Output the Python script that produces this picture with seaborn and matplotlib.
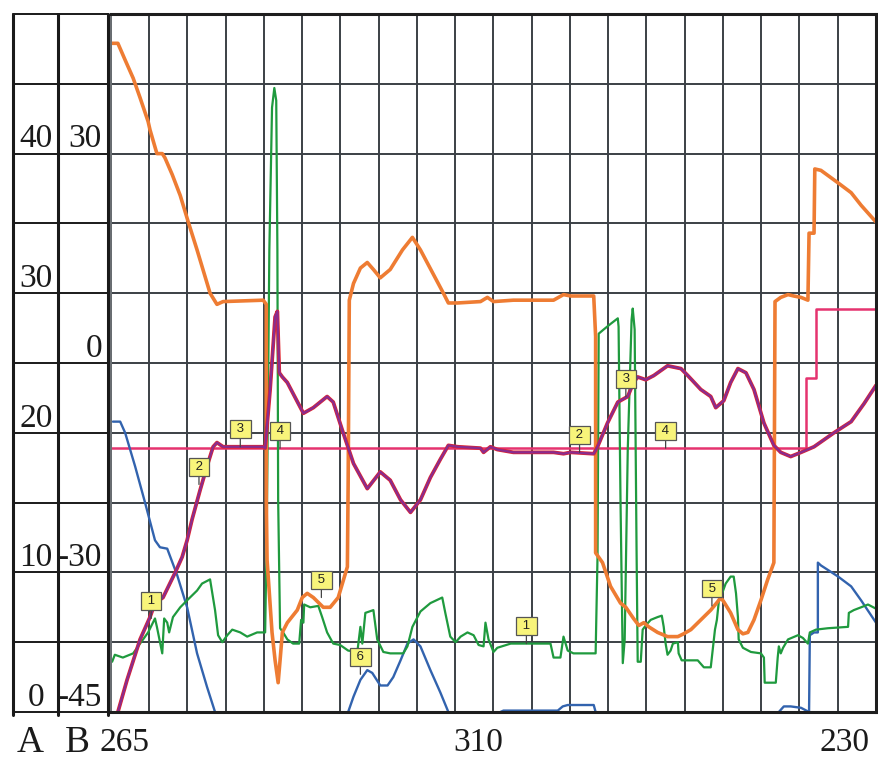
import numpy as np
import pandas as pd
import matplotlib
matplotlib.use('Agg')
import matplotlib.pyplot as plt
from matplotlib.ticker import MultipleLocator
import seaborn as sns

# x in grid columns (0-20), y on scale A (0-50)
ORANGE_X = [0.03, 0.18, 0.37, 0.58, 0.76, 0.97, 1.02, 1.20, 1.34, 1.41,
            1.60, 1.81, 2.02, 2.25, 2.59, 2.77, 2.93, 3.98, 4.06, 4.06,
            4.08, 4.21, 4.29, 4.37, 4.42, 4.48, 4.61, 4.87, 5.00, 5.13,
            5.29, 5.55, 5.73, 5.94, 6.18, 6.20, 6.23, 6.34, 6.52, 6.70,
            6.86, 7.04, 7.30, 7.62, 7.88, 8.09, 8.69, 8.82, 9.06, 9.66,
            9.84, 10.00, 10.52, 11.57, 11.83, 12.02, 12.62, 12.67, 12.67, 12.85,
            13.06, 13.32, 13.46, 13.66, 13.80, 13.93, 14.06, 14.29, 14.55, 14.82,
            14.97, 15.16, 15.42, 15.68, 15.86, 15.94, 16.02, 16.20, 16.39, 16.52,
            16.65, 16.81, 16.99, 17.17, 17.33, 17.36, 17.51, 17.70, 17.85, 18.04,
            18.22, 18.25, 18.38, 18.40, 18.56, 19.01, 19.35, 19.61, 20.0]
ORANGE_Y = [47.9, 47.9, 46.7, 45.4, 44.0, 42.3, 41.7, 40.0, 40.0, 39.7,
            38.5, 37.0, 35.1, 33.1, 30.0, 29.2, 29.4, 29.5, 29.2, 15.2,
            10.9, 5.7, 3.7, 2.1, 3.7, 5.7, 6.4, 7.3, 8.2, 8.5,
            8.2, 7.5, 7.5, 8.2, 10.4, 16.4, 29.5, 30.7, 31.8, 32.2,
            31.7, 31.1, 31.7, 33.1, 34.0, 33.1, 30.0, 29.3, 29.3, 29.4,
            29.7, 29.4, 29.5, 29.5, 29.9, 29.8, 29.8, 26.9, 11.4, 10.7,
            9.0, 7.8, 7.5, 6.7, 6.2, 6.4, 6.1, 5.7, 5.4, 5.4,
            5.6, 5.9, 6.6, 7.3, 7.9, 8.2, 7.9, 7.1, 5.9, 5.6,
            5.7, 6.6, 8.0, 9.5, 10.7, 29.4, 29.7, 29.9, 29.8, 29.7,
            29.5, 34.3, 34.3, 38.9, 38.8, 37.9, 37.2, 36.3, 35.1]

PURPLE_X = [0.18, 0.42, 0.76, 1.02, 1.15, 1.36, 1.68, 1.86, 1.99, 2.12,
            2.33, 2.51, 2.67, 2.77, 2.93, 3.98, 4.03, 4.16, 4.29, 4.35,
            4.40, 4.48, 4.61, 5.03, 5.29, 5.65, 5.81, 6.07, 6.34, 6.70,
            7.04, 7.30, 7.57, 7.83, 8.09, 8.35, 8.61, 8.82, 9.06, 9.66,
            9.74, 9.92, 10.10, 10.52, 11.57, 11.83, 12.02, 12.62, 12.72, 12.98,
            13.25, 13.51, 13.66, 13.77, 13.98, 14.19, 14.55, 14.90, 15.08, 15.42,
            15.68, 15.81, 16.02, 16.20, 16.39, 16.60, 16.81, 17.07, 17.33, 17.51,
            17.77, 18.04, 18.38, 18.90, 19.35, 19.69, 20.0]
PURPLE_Y = [0.0, 2.3, 5.2, 6.8, 7.8, 8.2, 10.0, 11.1, 12.3, 13.8,
            15.9, 17.6, 19.0, 19.3, 19.0, 19.0, 18.9, 23.1, 28.3, 28.7,
            24.3, 24.0, 23.6, 21.4, 21.8, 22.6, 22.2, 20.0, 17.8, 16.0,
            17.2, 16.6, 15.2, 14.3, 15.2, 16.8, 18.1, 19.1, 19.0, 18.9,
            18.6, 19.0, 18.8, 18.6, 18.6, 18.5, 18.6, 18.5, 19.0, 20.7,
            22.2, 22.6, 23.6, 24.0, 23.8, 24.1, 24.8, 24.6, 24.1, 23.1,
            22.6, 21.8, 22.3, 23.6, 24.6, 24.3, 23.1, 20.7, 19.1, 18.6,
            18.3, 18.6, 19.0, 20.0, 20.8, 22.1, 23.4]

PINK_X = [0.0, 18.17, 18.17, 18.43, 18.43, 20.0]
PINK_Y = [18.9, 18.9, 23.9, 23.9, 28.9, 28.9]

GREEN_X = [0.03, 0.10, 0.31, 0.58, 0.76, 0.97, 1.15, 1.20, 1.34, 1.39,
           1.47, 1.52, 1.62, 1.81, 1.99, 2.25, 2.38, 2.59, 2.72, 2.80,
           2.91, 3.04, 3.17, 3.38, 3.56, 3.82, 4.03, 4.06, 4.08, 4.14,
           4.21, 4.27, 4.32, 4.35, 4.37, 4.42, 4.50, 4.61, 4.76, 4.92,
           4.97, 5.03, 5.05, 5.21, 5.42, 5.52, 5.65, 5.81, 5.99, 6.20,
           6.44, 6.52, 6.57, 6.65, 6.86, 6.96, 7.12, 7.30, 7.64, 7.75,
           7.88, 8.09, 8.35, 8.66, 8.74, 8.87, 9.01, 9.14, 9.32, 9.48,
           9.61, 9.74, 9.79, 9.87, 10.00, 10.10, 10.45, 11.49, 11.57, 11.75,
           11.83, 11.94, 12.09, 12.67, 12.72, 12.75, 12.88, 13.06, 13.25, 13.27,
           13.32, 13.38, 13.43, 13.51, 13.61, 13.64, 13.69, 13.74, 13.77, 13.85,
           13.90, 13.98, 14.11, 14.29, 14.40, 14.45, 14.50, 14.55, 14.63, 14.69,
           14.82, 14.84, 14.92, 15.34, 15.50, 15.68, 15.73, 15.79, 15.84, 15.89,
           15.99, 16.07, 16.20, 16.28, 16.34, 16.39, 16.41, 16.52, 16.73, 16.99,
           17.07, 17.09, 17.38, 17.43, 17.46, 17.51, 17.57, 17.70, 17.96, 18.09,
           18.22, 18.27, 18.43, 18.74, 19.27, 19.29, 19.42, 19.61, 19.79, 20.0]
GREEN_Y = [3.6, 4.1, 3.9, 4.2, 4.9, 5.7, 6.7, 6.1, 4.2, 6.7,
           6.4, 5.7, 6.8, 7.5, 8.0, 8.7, 9.2, 9.5, 7.3, 5.5,
           5.0, 5.5, 5.9, 5.7, 5.4, 5.7, 5.7, 10.7, 15.2, 33.1,
           43.3, 44.7, 43.8, 33.1, 15.2, 6.0, 5.7, 5.2, 4.9, 4.9,
           6.6, 6.4, 7.7, 7.5, 7.6, 6.8, 5.7, 4.9, 4.8, 4.4,
           4.3, 6.1, 4.9, 7.1, 7.3, 5.2, 4.3, 4.2, 4.2, 4.7,
           6.1, 7.2, 7.8, 8.2, 7.1, 5.4, 5.0, 5.4, 5.7, 5.5,
           4.8, 4.7, 6.4, 5.2, 4.3, 4.6, 4.9, 4.9, 3.9, 3.9,
           5.4, 4.4, 4.2, 4.2, 11.2, 27.1, 27.4, 27.8, 28.2, 27.6,
           15.2, 3.5, 5.2, 18.8, 28.1, 28.9, 27.4, 11.6, 3.6, 3.6,
           5.9, 6.2, 6.6, 6.8, 6.9, 6.1, 4.9, 4.1, 4.4, 4.9,
           5.0, 4.2, 3.7, 3.7, 3.2, 3.2, 4.4, 5.9, 6.6, 7.9,
           8.6, 9.2, 9.7, 9.7, 8.5, 6.8, 5.2, 4.6, 4.3, 4.2,
           3.9, 2.1, 2.1, 3.9, 4.7, 4.2, 4.6, 5.2, 5.5, 5.3,
           4.9, 5.7, 5.9, 6.0, 6.1, 7.1, 7.3, 7.5, 7.7, 7.4]

BLUE_SEG = [1] * 13 + [2] * 15 + [3] * 7 + [4] * 14
BLUE_X = [0.05, 0.24, 0.37, 0.63, 0.89, 1.15, 1.28, 1.47, 1.73, 1.99, 2.25, 2.51, 2.72,
          6.20, 6.34, 6.52, 6.70, 6.83, 7.04, 7.23, 7.38, 7.57, 7.75, 7.91, 8.09, 8.35, 8.61, 8.82,
          10.18, 10.26, 11.68, 11.81, 11.94, 12.62, 12.67,
          17.46, 17.59, 17.77, 18.04, 18.25, 18.27, 18.38, 18.48, 18.48, 18.56, 19.01, 19.35, 19.61, 20.0]
BLUE_Y = [20.8, 20.8, 20.0, 17.6, 15.0, 12.3, 11.8, 11.7, 9.8, 7.5, 4.2, 1.8, 0.0,
          0.0, 1.1, 2.3, 3.0, 2.8, 1.9, 1.9, 2.5, 3.7, 4.9, 5.2, 4.7, 3.0, 1.4, 0.0,
          0.0, 0.1, 0.1, 0.4, 0.5, 0.5, 0.0,
          0.0, 0.4, 0.4, 0.3, 0.0, 5.5, 5.7, 5.7, 10.7, 10.5, 9.7, 9.0, 8.0, 6.4]

MARK_LABELS = ['1', '2', '3', '4', '5', '6', '1', '2', '3', '4', '5']
MARK_X = [1.05, 2.30, 3.38, 4.42, 5.50, 6.52, 10.86, 12.25, 13.46, 14.50, 15.71]
MARK_Y = [6.7, 16.3, 19.0, 18.9, 8.2, 2.7, 4.9, 18.6, 22.6, 18.9, 7.6]

A_TICKS = [0, 10, 20, 30, 40]
B_TICKS = ['-45', '-30', '0', '30']
B_POS = [0, 10, 25, 40]          # where each B label sits on the A scale
BOTTOM_LABELS = ['265', '310', '230']

sns.set_style('white')
plt.rcParams['font.family'] = ['Liberation Serif', 'DejaVu Serif']

W, H = 879, 760
fig = plt.figure(figsize=(W / 100, H / 100), dpi=100, facecolor='white')

# main plot area
ax = fig.add_axes([111 / W, 48 / H, 765 / W, 698 / H])
ax.set_xlim(0, 20)
ax.set_ylim(0, 50)
ax.set_xticks(np.arange(0, 21, 1))
ax.set_yticks(np.arange(0, 51, 5))
ax.yaxis.set_minor_locator(MultipleLocator(1))
ax.grid(True, which='major', color='#3b4045', lw=1.4)
ax.set_axisbelow(True)
ax.tick_params(axis='x', bottom=False, labelbottom=False)
ax.tick_params(axis='y', which='both', left=False, labelleft=False, right=True,
               direction='out', length=4, width=1.2, color='#333333')
for side in ['top', 'right', 'bottom']:
    ax.spines[side].set_color('#1e1e1e')
    ax.spines[side].set_linewidth(2.2)
ax.spines['left'].set_color('#6a6f73')
ax.spines['left'].set_linewidth(1.4)

pink = pd.DataFrame({'x': PINK_X, 'y': PINK_Y})
blue = pd.DataFrame({'x': BLUE_X, 'y': BLUE_Y, 'seg': BLUE_SEG})
green = pd.DataFrame({'x': GREEN_X, 'y': GREEN_Y})
orange = pd.DataFrame({'x': ORANGE_X, 'y': ORANGE_Y})
purple = pd.DataFrame({'x': PURPLE_X, 'y': PURPLE_Y})

sns.lineplot(data=pink, x='x', y='y', sort=False, estimator=None, color='#E5336F', lw=1.8, ax=ax)
sns.lineplot(data=blue, x='x', y='y', units='seg', sort=False, estimator=None,
             color='#3263AE', lw=1.7, ax=ax)
sns.lineplot(data=green, x='x', y='y', sort=False, estimator=None, color='#1F9A3E', lw=1.6, ax=ax)
sns.lineplot(data=orange, x='x', y='y', sort=False, estimator=None, color='#EE7C33', lw=2.6, ax=ax)
sns.lineplot(data=purple, x='x', y='y', sort=False, estimator=None, color='#E2242C', lw=2.7, ax=ax)
sns.lineplot(data=purple, x='x', y='y', sort=False, estimator=None, color='#8A2C8E', lw=1.7, ax=ax)
ax.set_xlabel('')
ax.set_ylabel('')
ax.set_xlim(0, 20)
ax.set_ylim(0, 50)

for lbl, mx, my in zip(MARK_LABELS, MARK_X, MARK_Y):
    ax.annotate(f' {lbl} ', xy=(mx, my), xytext=(0, 12.5), textcoords='offset points',
                ha='center', va='center', fontsize=9.5, family=['Liberation Sans', 'DejaVu Sans'],
                color='#222222', zorder=10,
                bbox=dict(boxstyle='square,pad=0.22', fc='#F8F47A', ec='#555555', lw=0.9),
                arrowprops=dict(arrowstyle='-', color='#444444', lw=0.9, shrinkA=0, shrinkB=0))

# left scale panel (A and B columns)
axl = fig.add_axes([13 / W, 48 / H, 95 / W, 698 / H])
axl.set_xlim(0, 95)
axl.set_ylim(0, 50)
axl.axis('off')
for yv in range(0, 51, 5):
    axl.plot([0, 95], [yv, yv], color='#1a1a1a', lw=1.4, clip_on=False)
for xv in [0, 45, 95]:
    axl.plot([xv, xv], [-0.25, 50], color='#1a1a1a', lw=2.2, clip_on=False)
for t in A_TICKS:
    axl.text(23, t + 0.45, str(t), ha='center', va='baseline', fontsize=24, color='#1a1a1a')
for t, p in zip(B_TICKS, B_POS):
    axl.text(89, p + 0.45, t, ha='right', va='baseline', fontsize=24, color='#1a1a1a')

# bottom labels
fig.text(30 / W, 8 / H, 'A', ha='center', va='baseline', fontsize=27, color='#1a1a1a')
fig.text(77 / W, 8 / H, 'B', ha='center', va='baseline', fontsize=27, color='#1a1a1a')
for lbl, px in zip(BOTTOM_LABELS, [125, 478, 845]):
    fig.text(px / W, 9 / H, lbl, ha='center', va='baseline', fontsize=24, color='#1a1a1a')

fig.savefig('out.png', dpi=100, facecolor='white')
